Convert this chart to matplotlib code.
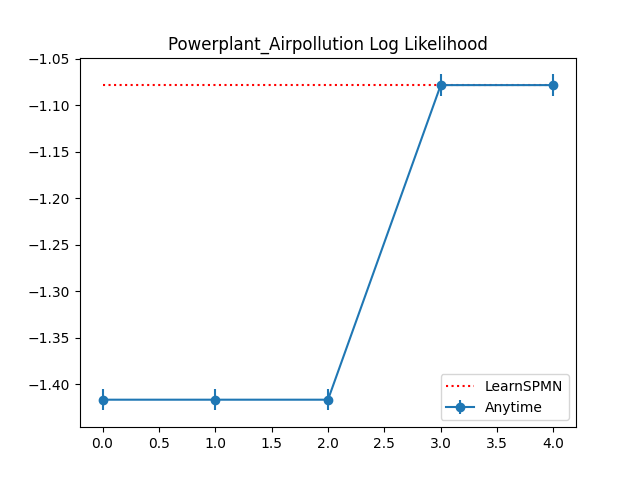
import matplotlib
matplotlib.use("Agg")
import matplotlib.pyplot as plt

x = [0, 1, 2, 3, 4]
anytime = [-1.4165, -1.4165, -1.4165, -1.0785, -1.0785]
err = [0.0115, 0.0115, 0.0115, 0.0115, 0.0115]
learnspmn = -1.0785

fig, ax = plt.subplots(figsize=(6.4, 4.8), dpi=100)
ax.plot(x, [learnspmn]*len(x), 'r:', label='LearnSPMN')
ax.errorbar(x, anytime, yerr=err, marker='o', label='Anytime')
ax.set_title('Powerplant_Airpollution Log Likelihood')
ax.legend(loc='lower right')
fig.savefig('out.png')
